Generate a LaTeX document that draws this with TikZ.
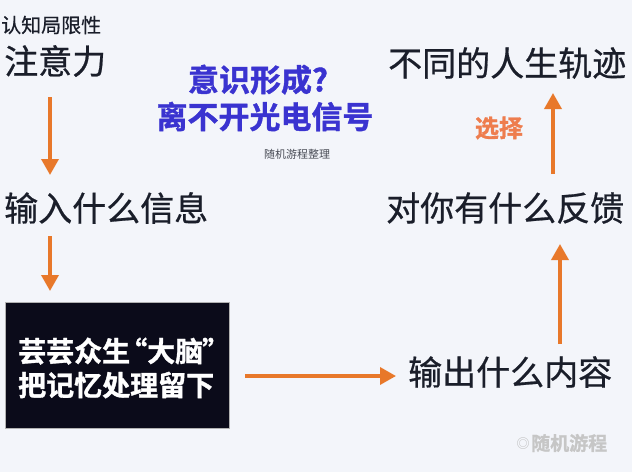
\documentclass[tikz,border=0pt]{standalone}
\usepackage{fontspec}
\newfontfamily\cjk{Noto Sans CJK SC}[BoldFont={Noto Sans CJK SC Bold}]
\newfontfamily\cjkmed{Noto Sans CJK SC}[FakeBold=0.6]
\newfontfamily\cjkheavy{Noto Sans CJK SC Bold}[FakeBold=1.2]
\usetikzlibrary{arrows.meta}
\definecolor{bg}{HTML}{F3F5FA}
\definecolor{arr}{HTML}{E8782A}
\definecolor{sel}{HTML}{EE7D4E}
\definecolor{txt}{HTML}{1A1E2A}
\definecolor{blu}{HTML}{3A33D0}
\definecolor{boxc}{HTML}{0B0B1A}
\tikzset{
  lbl/.style={font=\cjkmed\fontsize{34}{36}\selectfont, text=txt, inner sep=0pt, anchor=west},
  flow/.style={draw=arr, line width=3.5pt, -{Triangle[length=16pt,width=17pt]}, shorten >=2pt, shorten <=2pt},
}
\begin{document}
\begin{tikzpicture}[x=1pt,y=-1pt]
\fill[bg] (0,0) rectangle (632,472);
\useasboundingbox (0,0) rectangle (632,472);
% left column
\node[font=\cjkmed\fontsize{20}{22}\selectfont, text=txt, inner sep=0pt, anchor=west] (limit) at (1,25) {认知局限性};
\node[lbl] (attn) at (4,61) {注意力};
\node[lbl] (input) at (4,208) {输入什么信息};
\node[fill=boxc, draw=gray!60, line width=0.6pt, minimum width=224pt, minimum height=126pt, anchor=north west, inner sep=0pt] (brain) at (5,302) {};
\node[font=\cjkheavy\fontsize{28}{34}\selectfont, text=white, align=left, inner sep=0pt, anchor=west] (braintxt) at (18,368) {芸芸众生\kern-11pt“大脑\kern-1pt”\\把记忆处理留下};
% right column
\node[lbl] (output) at (408,372) {输出什么内容};
\node[lbl] (feedback) at (386,208) {对你有什么反馈};
\node[lbl] (path) at (388,63) {不同的人生轨迹};
\node[font=\cjkheavy\fontsize{24}{26}\selectfont, text=sel, inner sep=0pt] (choose) at (499,128) {选择};
% center title
\node[font=\cjkheavy\fontsize{31}{37}\selectfont, text=blu, align=center, inner sep=0pt] (title) at (265,98) {意识形成?\kern14pt\\离不开光电信号};
\node[font=\cjk\fontsize{11}{12}\selectfont, text=txt!80, inner sep=0pt] (credit) at (297,154) {随机游程整理};
% watermark
\node[font=\cjkheavy\fontsize{19}{20}\selectfont, text=gray!45, inner sep=0pt, anchor=west] (wm) at (531,443) {随机游程};
\node[font=\cjk\fontsize{13}{14}\selectfont, text=gray!55, inner sep=0pt] (wmicon) at (523,444) {◎};
% arrows
\coordinate (a1s) at (50,95); \coordinate (a1e) at (50,177);
\coordinate (a2s) at (50,234); \coordinate (a2e) at (50,293);
\coordinate (a3s) at (243,376); \coordinate (a3e) at (398,376);
\coordinate (a4s) at (560,346); \coordinate (a4e) at (560,242);
\coordinate (a5s) at (553,176); \coordinate (a5e) at (553,91);
\draw[flow] (a1s) -- (a1e);
\draw[flow] (a2s) -- (a2e);
\draw[flow] (a3s) -- (a3e);
\draw[flow] (a4s) -- (a4e);
\draw[flow] (a5s) -- (a5e);
\end{tikzpicture}
\end{document}
